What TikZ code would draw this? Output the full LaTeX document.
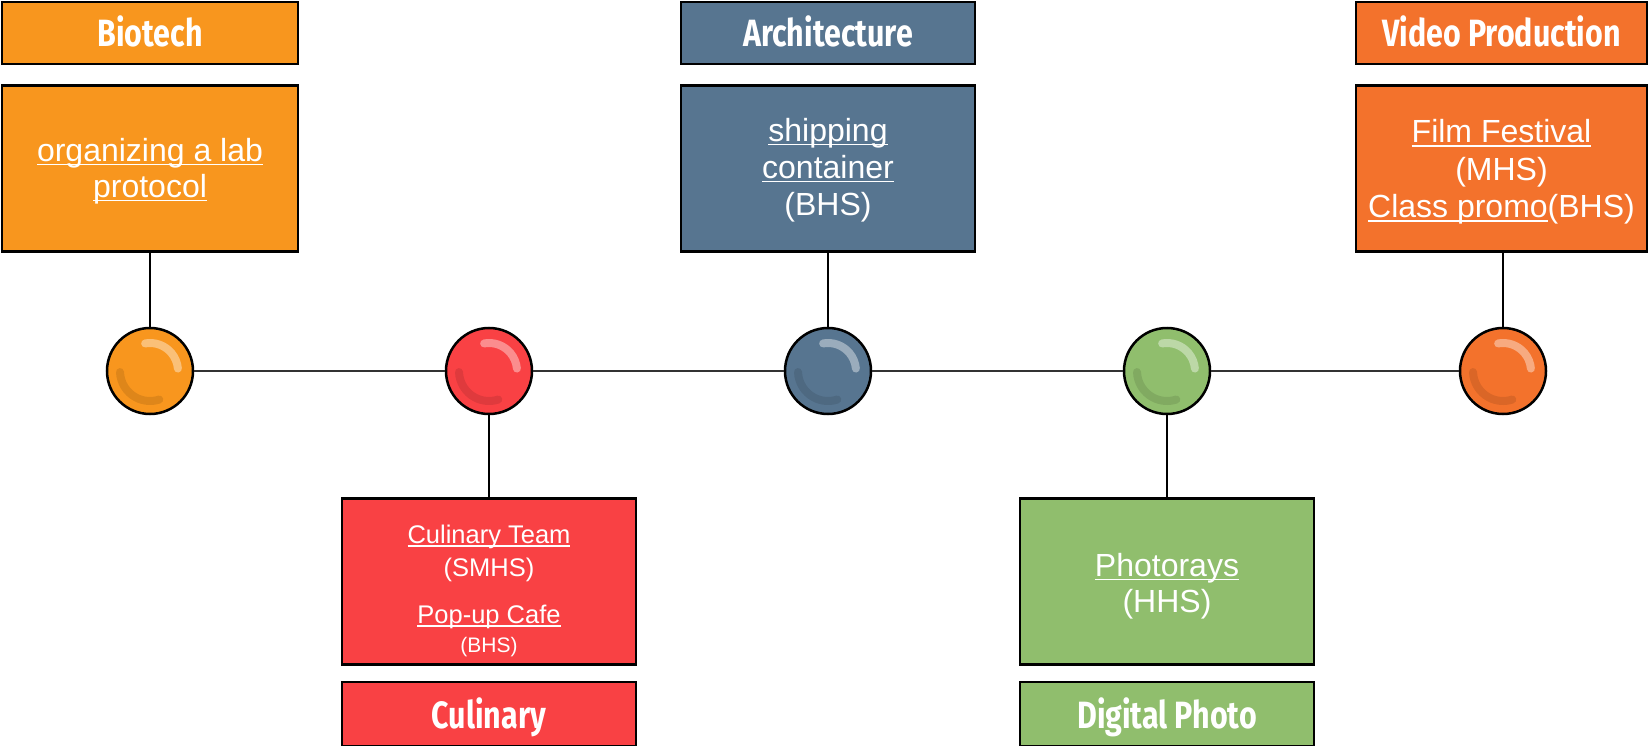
\documentclass[tikz,border=0pt]{standalone}
\usepackage{fontspec}
\setmainfont{Liberation Sans}
\newfontfamily\titlefont{Fira Sans}[FakeStretch=0.8]
\definecolor{cOrange}{HTML}{F8961E}
\definecolor{cRed}{HTML}{F94144}
\definecolor{cBlue}{HTML}{577590}
\definecolor{cGreen}{HTML}{90BE6D}
\definecolor{cDeep}{HTML}{F3722C}
\newcommand\ulx[1]{\setbox0\hbox{#1}\rlap{\rule[-0.13em]{\wd0}{0.06em}}\box0}
\begin{document}
\begin{tikzpicture}[x=1pt,y=-1pt,
  box/.style={draw=black, line width=2.2pt, rectangle, inner sep=0pt},
  ttlbox/.style={box, minimum height=62pt},
  bodybox/.style={box, minimum height=166pt},
  ttl/.style={text=white, inner sep=0pt, anchor=base, font=\titlefont\bfseries\fontsize{38}{40}\selectfont},
  txt/.style={text=white, inner sep=0pt, align=center, font=\fontsize{32}{36}\selectfont},
  stxt/.style={text=white, inner sep=0pt, align=center, font=\fontsize{25.5}{33}\selectfont},
  ball/.style={circle, draw=black, line width=2.5pt, minimum size=86pt, inner sep=0pt},
  link/.style={draw=black, line width=2pt},
  axis/.style={draw=black!80, line width=1.5pt},
  shine/.style={white, opacity=0.4, line width=8pt, line cap=round},
  shade/.style={black, opacity=0.1, line width=8pt, line cap=round}]
\useasboundingbox (0,0) rectangle (1649,746);

% title boxes
\node[ttlbox, fill=cOrange, minimum width=296pt] (h1) at (150,33) {};
\node[ttlbox, fill=cBlue, minimum width=294pt] (h3) at (828,33) {};
\node[ttlbox, fill=cDeep, minimum width=291pt] (h5) at (1501.5,33) {};
\node[ttlbox, fill=cRed, minimum width=294pt, minimum height=64pt] (h2) at (489,714) {};
\node[ttlbox, fill=cGreen, minimum width=294pt, minimum height=64pt] (h4) at (1167,714) {};
\node[ttl] (h1t) at (150,47) {Biotech};
\node[ttl] (h3t) at (828,47) {Architecture};
\node[ttl] (h5t) at (1501.5,47) {Video Production};
\node[ttl] (h2t) at (489,728) {Culinary};
\node[ttl] (h4t) at (1167,728) {Digital Photo};

% body boxes
\node[bodybox, fill=cOrange, minimum width=296pt] (c1) at (150,168.5) {};
\node[bodybox, fill=cBlue, minimum width=294pt] (c3) at (828,168.5) {};
\node[bodybox, fill=cDeep, minimum width=291pt] (c5) at (1501.5,168.5) {};
\node[bodybox, fill=cRed, minimum width=294pt] (c2) at (489,581.5) {};
\node[bodybox, fill=cGreen, minimum width=294pt] (c4) at (1167,581.5) {};

\node[txt] (c1t) at (150,171) {\ulx{organizing a lab}\\\ulx{protocol}};
\node[txt, font=\fontsize{32}{37}\selectfont] (c3t) at (828,170) {\ulx{shipping}\\\ulx{container}\\(BHS)};
\node[txt, font=\fontsize{32}{37.5}\selectfont] (c5t) at (1501.5,172) {\ulx{Film Festival}\\(MHS)\\\ulx{Class promo}(BHS)};
\node[stxt] (c2t) at (489,591) {\ulx{Culinary Team}\\(SMHS)\\[14pt]\ulx{Pop-up Cafe}\\[-4pt]{\fontsize{21}{24}\selectfont(BHS)}};
\node[txt] (c4t) at (1167,586) {\ulx{Photorays}\\(HHS)};

% balls
\node[ball, fill=cOrange] (b1) at (150,371) {};
\node[ball, fill=cRed] (b2) at (489,371) {};
\node[ball, fill=cBlue] (b3) at (828,371) {};
\node[ball, fill=cGreen] (b4) at (1167,371) {};
\node[ball, fill=cDeep] (b5) at (1503,371) {};

% axis and connectors
\draw[axis] (b1) -- (b2);
\draw[axis] (b2) -- (b3);
\draw[axis] (b3) -- (b4);
\draw[axis] (b4) -- (b5);
\draw[link] (b1.north |- c1.south) -- (b1.north);
\draw[link] (b3.north |- c3.south) -- (b3.north);
\draw[link] (b5.north |- c5.south) -- (b5.north);
\draw[link] (b2.south) -- (b2.south |- c2.north);
\draw[link] (b4.south) -- (b4.south |- c4.north);

% highlights
\foreach \b in {b1,b2,b3,b4,b5}{
  \draw[shine] ([shift={(-100:28)}]\b.center) arc[start angle=-100, end angle=-5, radius=28];
  \draw[shade] ([shift={(178:30)}]\b.center) arc[start angle=178, end angle=72, radius=30];
}
\end{tikzpicture}
\end{document}
